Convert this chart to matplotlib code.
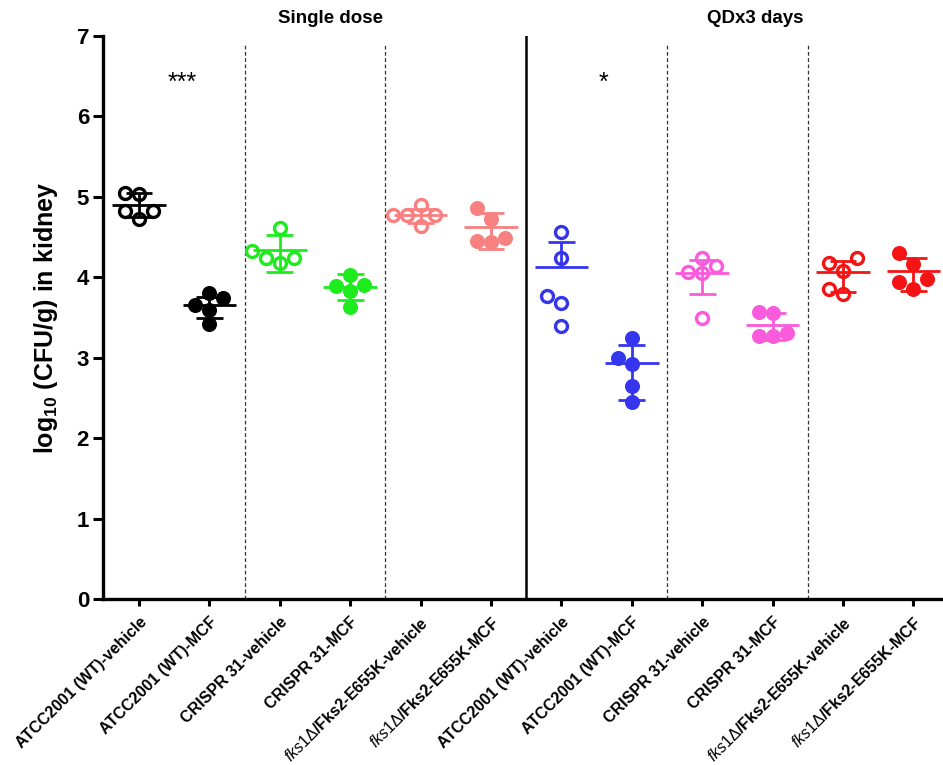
import numpy as np
import matplotlib
matplotlib.use("Agg")
import matplotlib.pyplot as plt

plt.rcParams['font.family'] = ['Liberation Sans', 'DejaVu Sans']
plt.rcParams['mathtext.fontset'] = 'custom'
plt.rcParams['mathtext.rm'] = 'Liberation Sans'
plt.rcParams['mathtext.it'] = 'Liberation Sans:italic'
plt.rcParams['mathtext.bf'] = 'Liberation Sans:bold'

# ---------------- data ----------------
categories = [
    "ATCC2001 (WT)-vehicle", "ATCC2001 (WT)-MCF",
    "CRISPR 31-vehicle", "CRISPR 31-MCF",
    r"$\mathit{fks1Δ}$/Fks2-E655K-vehicle", r"$\mathit{fks1Δ}$/Fks2-E655K-MCF",
    "ATCC2001 (WT)-vehicle", "ATCC2001 (WT)-MCF",
    "CRISPR 31-vehicle", "CRISPR 31-MCF",
    r"$\mathit{fks1Δ}$/Fks2-E655K-vehicle", r"$\mathit{fks1Δ}$/Fks2-E655K-MCF",
]
values = [
    [5.05, 5.04, 4.82, 4.73, 4.82],
    [3.74, 3.80, 3.65, 3.59, 3.42],
    [4.61, 4.24, 4.18, 4.24, 4.33],
    [4.03, 3.89, 3.90, 3.83, 3.63],
    [4.90, 4.77, 4.64, 4.77, 4.77],
    [4.86, 4.73, 4.49, 4.44, 4.45],
    [4.56, 4.24, 3.77, 3.68, 3.40],
    [3.25, 3.00, 2.92, 2.65, 2.45],
    [4.24, 4.06, 4.05, 4.14, 3.50],
    [3.57, 3.56, 3.31, 3.27, 3.27],
    [4.18, 4.24, 4.08, 3.79, 3.86],
    [4.30, 4.17, 3.98, 3.94, 3.86],
]
means = [4.90, 3.65, 4.34, 3.88, 4.77, 4.63, 4.13, 2.93, 4.05, 3.41, 4.07, 4.08]
err_hi = [0.15, 0.10, 0.18, 0.16, 0.08, 0.17, 0.31, 0.23, 0.17, 0.14, 0.13, 0.16]
err_lo = [0.15, 0.15, 0.27, 0.16, 0.09, 0.28, 0.00, 0.46, 0.26, 0.19, 0.25, 0.25]
filled = [False, True, False, True, False, True, False, True, False, True, False, True]
colors = ["#000000", "#000000", "#1EEB1E", "#1EEB1E", "#F88080", "#F88080",
          "#3535EE", "#3535EE", "#FA5ADC", "#FA5ADC", "#F51414", "#F51414"]
section_titles = ["Single dose", "QDx3 days"]
stars = ["***", "*"]

# ---------------- figure ----------------
W, H = 943, 765
fig = plt.figure(figsize=(W / 100, H / 100), dpi=100)
ax = fig.add_axes([103 / W, 1 - 599 / H, (943 - 103) / W, (599 - 36) / H])
ax.set_xlim(-0.511, 11.42)
ax.set_ylim(0, 7)

px_x = 70.4  # pixels per x unit
px_y = 80.4  # pixels per y unit
diam = 14.0  # marker diameter px


def swarm(vals):
    order = np.argsort(vals)
    placed = []
    offs = np.zeros(len(vals))
    step = diam / px_x
    for i in order:
        v = vals[i]
        cand = [0.0]
        for n in range(1, 10):
            cand += [-n * step, n * step]
        for c in cand:
            ok = True
            for (pc, pv) in placed:
                dx = (c - pc) * px_x
                dy = (v - pv) * px_y
                if dx * dx + dy * dy < (diam * 0.92) ** 2:
                    ok = False
                    break
            if ok:
                offs[i] = c
                placed.append((c, v))
                break
    return offs


lw = 2.0
for i, vals in enumerate(values):
    c = colors[i]
    m = means[i]
    ax.plot([i - 0.38, i + 0.38], [m, m], color=c, lw=lw, zorder=3, solid_capstyle='butt')
    lo = m - err_lo[i]
    hi = m + err_hi[i]
    ax.plot([i, i], [lo, hi], color=c, lw=lw, zorder=3, solid_capstyle='butt')
    ax.plot([i - 0.19, i + 0.19], [hi, hi], color=c, lw=lw, zorder=3, solid_capstyle='butt')
    if err_lo[i] > 0:
        ax.plot([i - 0.19, i + 0.19], [lo, lo], color=c, lw=lw, zorder=3, solid_capstyle='butt')
    offs = swarm(np.array(vals))
    xs = i + offs
    if filled[i]:
        ax.plot(xs, vals, 'o', ms=9.8, mfc=c, mec=c, mew=1.0, ls='none', zorder=4)
    else:
        ax.plot(xs, vals, 'o', ms=8.6, mfc='none', mec=c, mew=2.4, ls='none', zorder=4)

# dividers
for xd in [1.5, 3.5, 7.5, 9.5]:
    ax.plot([xd, xd], [0, 6.9], color='#333333', lw=0.9, ls=(0, (3, 2)), zorder=1)
ax.plot([5.5, 5.5], [0, 7], color='black', lw=1.8, zorder=1)

# texts
ax.text(2.72, 7.22, section_titles[0], ha='center', va='center', fontsize=13.5, fontweight='bold')
ax.text(8.75, 7.22, section_titles[1], ha='center', va='center', fontsize=13.5, fontweight='bold')
ax.text(0.62, 6.42, stars[0], ha='center', va='center', fontsize=18)
ax.text(6.6, 6.42, stars[1], ha='center', va='center', fontsize=18)

# axes styling
for s in ['top', 'right']:
    ax.spines[s].set_visible(False)
ax.spines['left'].set_linewidth(2.4)
ax.spines['bottom'].set_linewidth(2.4)
ax.set_yticks(range(0, 8))
ax.set_yticklabels([str(v) for v in range(0, 8)], fontsize=16, fontweight='bold')
ax.tick_params(axis='y', length=7, width=2.2, pad=3)
ax.set_xticks(range(len(categories)))
ax.set_xticklabels(categories, rotation=45, ha='right', rotation_mode='anchor',
                   fontsize=11.5, fontweight='bold')
ax.tick_params(axis='x', length=5, width=2.2, pad=6)
ax.set_ylabel(r"log$_{\mathbf{10}}$ (CFU/g) in kidney", fontsize=18, fontweight='bold', labelpad=12)

fig.savefig("out.png", dpi=100)
